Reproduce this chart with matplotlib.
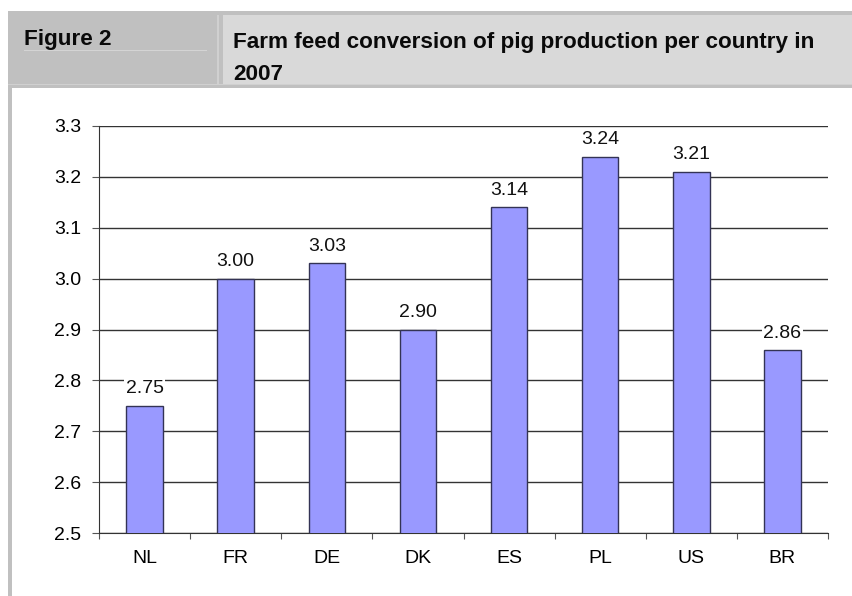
import matplotlib
matplotlib.use("Agg")
import matplotlib.pyplot as plt
from matplotlib.patches import Rectangle

# Chart data
countries = ["NL", "FR", "DE", "DK", "ES", "PL", "US", "BR"]
feed_conversion = [2.75, 3.00, 3.03, 2.90, 3.14, 3.24, 3.21, 2.86]
value_labels = ["2.75", "3.00", "3.03", "2.90", "3.14", "3.24", "3.21", "2.86"]
y_ticks = [2.5, 2.6, 2.7, 2.8, 2.9, 3.0, 3.1, 3.2, 3.3]

fig_label = "Figure 2"
title_lines = ["Farm feed conversion of pig production per country in", "2007"]

plt.rcParams["font.family"] = ["Liberation Sans", "DejaVu Sans"]

W, H = 852, 596
fig = plt.figure(figsize=(W / 100, H / 100), dpi=100)


def fx(x):
    return x / W


def fy(y):
    return 1 - y / H


def rect(x0, y0, x1, y1, color):
    fig.add_artist(Rectangle((fx(x0), fy(y1)), fx(x1) - fx(x0), fy(y0) - fy(y1),
                             transform=fig.transFigure, facecolor=color,
                             edgecolor="none", zorder=0))


# header band
rect(8, 11, 852, 88, "#c0c0c0")
rect(223, 15, 852, 84, "#d9d9d9")
rect(217, 15, 219, 84, "#d0d0d0")
rect(8, 84, 852, 85, "#d0d0d0")
rect(24, 50, 207, 51, "#d4d4d4")
# left border
rect(8, 88, 12, 596, "#c0c0c0")

head_size = 16.2
fig.text(fx(24), fy(45), fig_label, fontsize=head_size, fontweight="bold",
         color="#0a0a0a", va="baseline", ha="left")
fig.text(fx(233), fy(48), title_lines[0], fontsize=head_size, fontweight="bold",
         color="#0a0a0a", va="baseline", ha="left")
fig.text(fx(233), fy(80), title_lines[1], fontsize=head_size, fontweight="bold",
         color="#0a0a0a", va="baseline", ha="left")

# plot area
ax = fig.add_axes([fx(99), fy(533), fx(828) - fx(99), fy(126) - fy(533)])
x = list(range(len(countries)))
ax.bar(x, feed_conversion, width=0.4, color="#9999ff",
       edgecolor="#333355", linewidth=1, zorder=3)

for xi, v, lab in zip(x, feed_conversion, value_labels):
    ax.annotate(lab, (xi, v), xytext=(0, 6), textcoords="offset points",
                ha="center", va="bottom", fontsize=14, color="#111111",
                bbox=dict(boxstyle="square,pad=0.08", facecolor="white",
                          edgecolor="none"), zorder=4)

ax.set_xlim(-0.5, len(countries) - 0.5)
ax.set_ylim(2.5, 3.3)
ax.set_yticks(y_ticks)
ax.set_yticklabels([f"{t:.1f}" for t in y_ticks], fontsize=14)
ax.yaxis.grid(True, color="#333333", linewidth=1, zorder=0)
ax.set_axisbelow(True)

# category ticks at boundaries, labels at centres
ax.set_xticks([i - 0.5 for i in range(len(countries) + 1)])
ax.set_xticklabels([])
ax.set_xticks(x, minor=True)
ax.set_xticklabels(countries, minor=True, fontsize=14)
ax.tick_params(axis="x", which="major", length=4, direction="out", color="#555555")
ax.tick_params(axis="x", which="minor", length=0, pad=12)
ax.tick_params(axis="y", length=5, direction="out", color="#555555", pad=8)

for side in ["top", "right"]:
    ax.spines[side].set_visible(False)
for side in ["left", "bottom"]:
    ax.spines[side].set_color("#333333")

fig.savefig("out.png", dpi=100)
